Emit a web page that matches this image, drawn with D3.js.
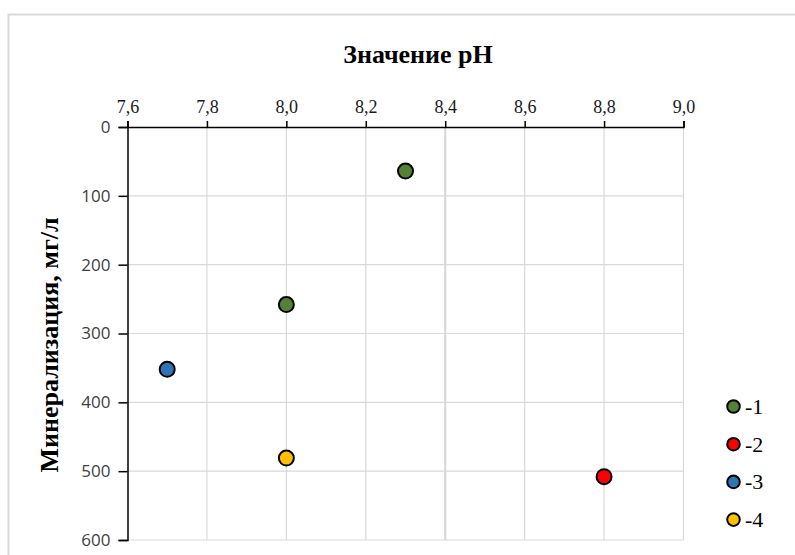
<!DOCTYPE html>
<html><head><meta charset="utf-8">
<script src="https://cdn.jsdelivr.net/npm/d3@7"></script>
<style>body{margin:0;background:#fff}svg{display:block}</style>
</head><body>
<script>
const seriesNames = ["-1","-2","-3","-4"];
const seriesColors = ["#548235","#ff0000","#2e75b6","#ffc000"];
const seriesPH = [[8.3, 8.0],[8.8],[7.7],[8.0]];
const seriesMin = [[64, 258],[508],[352],[481]];
const xTicks = [7.6,7.8,8.0,8.2,8.4,8.6,8.8,9.0];
const yTicks = [0,100,200,300,400,500,600];

const W=795,H=555;
const svg=d3.select("body").append("svg").attr("width",W).attr("height",H);
svg.append("rect").attr("x",8.5).attr("y",14.5).attr("width",W).attr("height",H).attr("fill","#fff").attr("stroke","#d9d9d9").attr("stroke-width",2);

const x=d3.scaleLinear().domain([7.6,9.0]).range([127.5,683.5]);
const y=d3.scaleLinear().domain([0,600]).range([127,540]);

// grid
const g=svg.append("g");
g.selectAll(".vg").data(xTicks.slice(1)).enter().append("line")
 .attr("x1",d=>x(d)).attr("x2",d=>x(d)).attr("y1",y(0)).attr("y2",y(600))
 .attr("stroke","#d9d9d9").attr("stroke-width",d=>Math.abs(d-8.4)<1e-9?2.2:1.2);
g.selectAll(".hg").data(yTicks.slice(1)).enter().append("line")
 .attr("x1",x(7.6)).attr("x2",x(9.0)).attr("y1",d=>y(d)).attr("y2",d=>y(d))
 .attr("stroke","#d9d9d9").attr("stroke-width",1.2);

// axes
const xa=svg.append("g").attr("transform",`translate(0,${y(0)})`)
 .call(d3.axisTop(x).tickValues(xTicks).tickSize(6).tickPadding(8).tickFormat(d=>d3.format(".1f")(d).replace(".",",")));
xa.attr("font-family",null).attr("font-size",null);
xa.selectAll("text").style("font-family","'Liberation Serif', 'Times New Roman', serif").style("font-size","18px").attr("fill","#1a1a1a");
const ya=svg.append("g").attr("transform",`translate(${x(7.6)},0)`)
 .call(d3.axisLeft(y).tickValues(yTicks).tickSize(9).tickPadding(8).tickFormat(d3.format("d")));
ya.attr("font-family",null).attr("font-size",null);
ya.selectAll("text").style("font-family","'Open Sans', sans-serif").style("font-size","17px").attr("fill","#404040");
[xa,ya].forEach(a=>{a.select(".domain").attr("stroke","#000").attr("stroke-width",1.5);a.selectAll(".tick line").attr("stroke","#000").attr("stroke-width",1.5);});

// titles
svg.append("text").attr("x",418).attr("y",63).attr("text-anchor","middle")
 .style("font-family","'Liberation Serif', serif").attr("font-weight","bold").style("font-size","26px").text("Значение pH");
svg.append("text").attr("transform","translate(58,345) rotate(-90)").attr("text-anchor","middle")
 .style("font-family","'Liberation Serif', serif").attr("font-weight","bold").style("font-size","26px").text("Минерализация, мг/л");

// points
seriesNames.forEach((n,i)=>{
  const pts=seriesPH[i].map((p,j)=>[p,seriesMin[i][j]]);
  svg.append("g").selectAll("circle").data(pts).enter().append("circle")
   .attr("cx",d=>x(d[0])).attr("cy",d=>y(d[1])).attr("r",7.5)
   .attr("fill",seriesColors[i]).attr("stroke","#000").attr("stroke-width",2);
});

// legend
const lg=svg.append("g");
seriesNames.forEach((n,i)=>{
  const yy=406.5+i*37.7;
  lg.append("circle").attr("cx",733.5).attr("cy",yy).attr("r",6.3).attr("fill",seriesColors[i]).attr("stroke","#000").attr("stroke-width",2);
  lg.append("text").attr("x",745).attr("y",yy+7.5).style("font-family","'Liberation Serif', serif").style("font-size","22px").attr("fill","#000").text(n);
});
</script>
</body></html>
